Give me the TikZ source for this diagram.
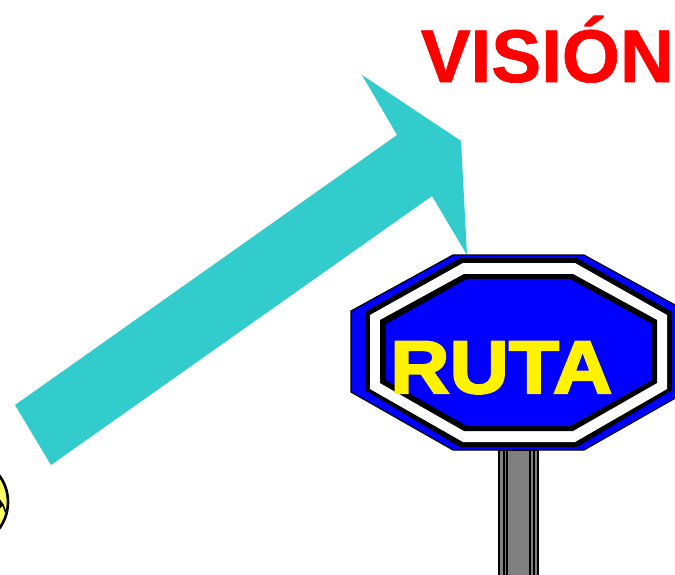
\documentclass[tikz,border=0pt]{standalone}
\usepackage{fontspec}
\setmainfont{Liberation Sans}
\newfontfamily\signfont[FakeBold=3,FakeStretch=1.1]{Liberation Sans Bold}
\newfontfamily\headfont[FakeBold=1]{Liberation Sans Bold}
\usetikzlibrary{positioning}
\definecolor{arrowteal}{RGB}{51,204,204}
\definecolor{signblue}{RGB}{0,0,255}
\definecolor{postgray}{RGB}{128,128,128}
\definecolor{faceyellow}{RGB}{255,255,102}

\begin{document}
\begin{tikzpicture}[
  x=0.75pt, y=-0.75pt,
  plate/.style={draw=black, fill=signblue, line width=0.9pt, line join=miter},
  band/.style={fill=black},
  gap/.style={fill=white},
  post/.style={draw=black, fill=postgray, line width=1.5pt},
  title/.style={inner sep=0pt, anchor=base west},
]
\useasboundingbox (0,0) rectangle (675,575);
\clip (0,0) rectangle (675,575);

% ---- big arrow -------------------------------------------------------------
\fill[arrowteal] (15,405) -- (397,135) -- (362,75) -- (461,141) -- (467,255)
  -- (432,196) -- (51,465) -- cycle;

% ---- post ------------------------------------------------------------------
\draw[post] (499,450) rectangle (538,580);
\foreach \x in {503.5,507,530,534.3} \draw[post] (\x,450) -- (\x,580);

% ---- sign ------------------------------------------------------------------
\draw[plate] (453,255) -- (584,255) -- (686,311) -- (686,392) -- (584,450)
  -- (453,450) -- (351,392) -- (351,311) -- cycle;
\fill[band] (460,258) -- (577,258) -- (672,312) -- (672,390) -- (577,447)
  -- (460,447) -- (365,390) -- (365,312) -- cycle;
\fill[gap] (463,263) -- (575,263) -- (667,315) -- (667,389) -- (575,442)
  -- (463,442) -- (370,389) -- (370,315) -- cycle;
\fill[band] (464,274) -- (573,274) -- (657,320) -- (657,383) -- (573,431)
  -- (464,431) -- (380,383) -- (380,320) -- cycle;
\fill[signblue] (467,279) -- (570,279) -- (652,324) -- (652,380) -- (570,426)
  -- (467,426) -- (386,380) -- (386,324) -- cycle;

% ---- labels ----------------------------------------------------------------
\node[title, text=yellow, font=\signfont\fontsize{56}{56}\selectfont] (ruta) at (390,393) {RUTA};
\node[title, text=red, font=\headfont\fontsize{56}{56}\selectfont] (vision) at (420.5,82) {VISIÓN};

% ---- head at the left edge -------------------------------------------------
\draw[black, fill=faceyellow, line width=2pt] (-36.6,502) circle (44.6);
\fill[black] (-1,498) -- (4,505) -- (-1,509) -- cycle;
\draw[black, line width=1.2pt] (3,505) -- (6,513);
\end{tikzpicture}
\end{document}
